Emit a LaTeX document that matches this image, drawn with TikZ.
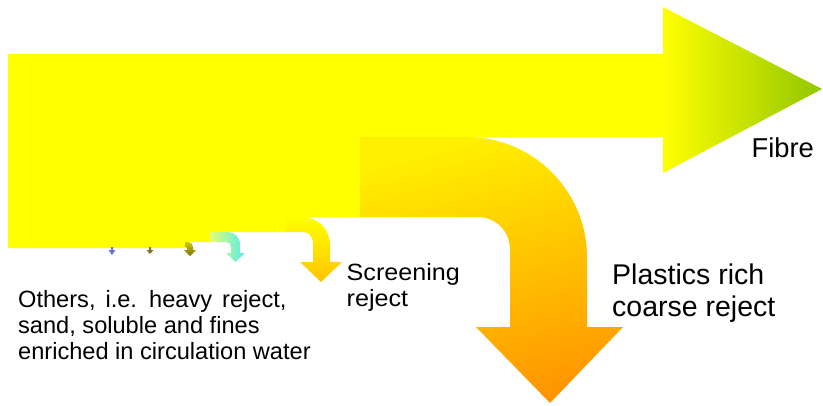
\documentclass[tikz,border=0pt]{standalone}
\usepackage{fontspec}
\setmainfont{Liberation Sans}
\newfontfamily\screenfont[FakeStretch=1.07]{Liberation Sans}
\definecolor{myyellow}{RGB}{255,255,0}
\definecolor{fibregreen}{RGB}{145,198,0}
\definecolor{plastop}{RGB}{255,240,0}
\definecolor{plasbot}{RGB}{255,150,0}
\definecolor{screenbot}{RGB}{255,195,0}
\definecolor{cyanstart}{RGB}{225,255,120}
\definecolor{cyanend}{RGB}{90,235,230}
\definecolor{olivetop}{RGB}{210,200,0}
\definecolor{olivebot}{RGB}{125,115,0}
\definecolor{smallolive}{RGB}{130,115,30}
\definecolor{smallblue}{RGB}{100,120,215}
\tikzset{
  lbl/.style={anchor=base west, inner sep=0pt, text=black},
  othfont/.style={font=\fontsize{23.6}{26}\selectfont},
}
\begin{document}
\begin{tikzpicture}[x=1pt,y=-1pt]
\useasboundingbox (0,0) rectangle (823,405);
% main body
\fill[myyellow] (8,54) -- (663,54) -- (663,137) -- (360,137) -- (360,217) -- (285,217)
  -- (285,232) -- (210,232) -- (210,242) -- (185,242) -- (185,248) -- (8,248) -- cycle;
% fibre head
\shade[left color=myyellow, right color=fibregreen] (663,7) -- (822,89) -- (663,173) -- cycle;
% plastics arrow
\shade[top color=plastop, bottom color=plasbot, shading angle=15]
  (360,137) -- (467,137) .. controls (533,137) and (587,191) .. (587,257) -- (587,327)
  -- (623,327) -- (550,403) -- (476,327) -- (510,327) -- (510,250)
  .. controls (510,231) and (496,217) .. (477,217) -- (360,217) -- cycle;
% screening arrow
\shade[top color=myyellow, bottom color=screenbot]
  (285,217) -- (302,217) .. controls (318,217) and (330,229) .. (330,245) -- (330,262)
  -- (342,262) -- (321,282) -- (300,262) -- (313,262) -- (313,243)
  .. controls (313,237) and (309,232) .. (303,232) -- (285,232) -- cycle;
% cyan arrow
\shade[left color=cyanstart, right color=cyanend]
  (210,232) -- (226,232) .. controls (235,232) and (240,237) .. (240,245) -- (240,253)
  -- (245,253) -- (235.5,262) -- (226,253) -- (231,253) -- (231,247)
  .. controls (231,244) and (229,242) .. (226,242) -- (210,242) -- cycle;
% olive arrow
\shade[top color=olivetop, bottom color=olivebot]
  (185,242) -- (188,242) .. controls (191,242) and (193,244) .. (193,247) -- (193,250)
  -- (196,250) -- (190,256) -- (184,250) -- (187,250) -- (187,248)
  .. controls (187,247.5) and (186.5,247) .. (186,247) -- (185,247) -- cycle;
% small olive arrow
\fill[smallolive] (149,247) -- (151,247) -- (151,250) -- (153.5,250) -- (150,254)
  -- (146.5,250) -- (149,250) -- cycle;
% small blue arrow
\fill[smallblue] (111,247) -- (113,247) -- (113,250) -- (115.5,250) -- (112,255)
  -- (108.5,250) -- (111,250) -- cycle;
% labels
\node[lbl, font=\fontsize{27.3}{30}\selectfont] (fibre) at (751.5,157) {Fibre};
\node[lbl, font=\fontsize{28.5}{32}\selectfont] (plas1) at (612,284.3) {Plastics rich};
\node[lbl, font=\fontsize{28.5}{32}\selectfont] (plas2) at (612,316.7) {coarse reject};
\node[lbl, font=\screenfont\fontsize{23.5}{27}\selectfont] (scr1) at (346.5,280) {Screening};
\node[lbl, font=\screenfont\fontsize{23.5}{27}\selectfont] (scr2) at (346.5,306.7) {reject};
\node[lbl, othfont] (oth1) at (18,307) {\spaceskip=10pt Others, i.e. heavy reject,};
\node[lbl, othfont] (oth2) at (18,333) {sand, soluble and fines};
\node[lbl, othfont] (oth3) at (18,359) {enriched in circulation water};
\end{tikzpicture}
\end{document}
